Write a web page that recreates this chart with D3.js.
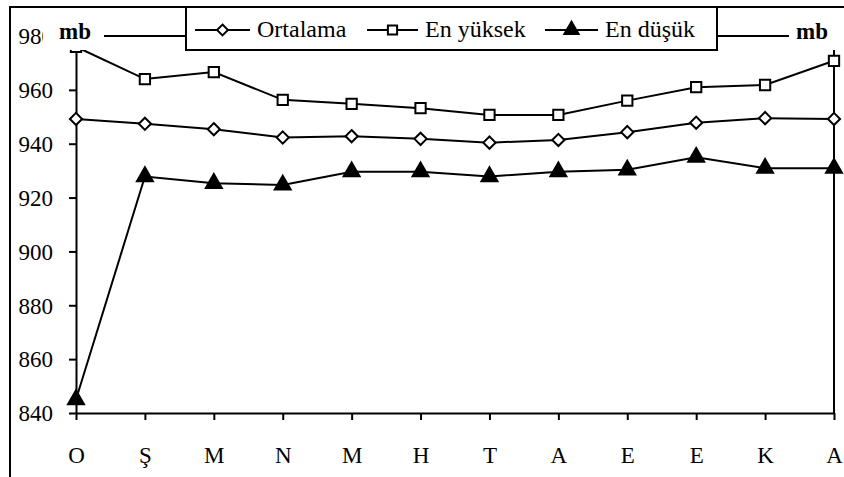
<!DOCTYPE html>
<head>
  <meta charset="utf-8">
  <title>Basinc grafigi</title>
  <style>
    body { margin: 0; background: #ffffff; }
    .domain { stroke: #000; stroke-width: 2px; }
    .tick line { stroke: #000; stroke-width: 2px; }
  </style>
  <script src="https://cdn.jsdelivr.net/npm/d3@7"></script>
</head>
<body>
<script>
  // months (Ekim .. Eylul)
  var months = ["O", "Ş", "M", "N", "M", "H", "T", "A", "E", "E", "K", "A"];
  var seriesNames = ["Ortalama", "En yüksek", "En düşük"];
  var ortalama = [949.2, 947.4, 945.4, 942.3, 942.8, 941.8, 940.4, 941.4, 944.3, 947.8, 949.5, 949.2];
  var enYuksek = [976, 964, 966.6, 956.3, 954.8, 953.2, 950.7, 950.7, 956, 961, 961.8, 970.8];
  var enDusuk = [845, 927.8, 925.3, 924.7, 929.6, 929.6, 927.8, 929.6, 930.3, 935, 930.9, 930.9];
  var yTicks = [840, 860, 880, 900, 920, 940, 960, 980];

  var W = 844, H = 477;
  var margin = { top: 36, right: 10, bottom: 64, left: 76 };
  var serif = "'Liberation Serif', 'Times New Roman', serif";

  var svg = d3.select("body").append("svg")
    .attr("width", W)
    .attr("height", H);

  // outer frame (left + top only)
  svg.append("path")
    .attr("d", "M10," + H + "V7H" + W)
    .attr("fill", "none")
    .attr("stroke", "#000")
    .attr("stroke-width", 2);

  var x = d3.scalePoint()
    .domain(d3.range(months.length))
    .range([margin.left, W - margin.right]);

  var y = d3.scaleLinear()
    .domain([840, 980])
    .range([H - margin.bottom, margin.top]);

  // plot area top + right lines
  svg.append("line")
    .attr("x1", margin.left).attr("x2", W - margin.right)
    .attr("y1", y(980)).attr("y2", y(980))
    .attr("stroke", "#000").attr("stroke-width", 2);
  svg.append("line")
    .attr("x1", W - margin.right).attr("x2", W - margin.right)
    .attr("y1", y(980)).attr("y2", y(840))
    .attr("stroke", "#000").attr("stroke-width", 2);

  // y axis
  var yAxis = svg.append("g")
    .attr("transform", "translate(" + margin.left + ",0)")
    .call(d3.axisLeft(y).tickValues(yTicks).tickSize(7).tickSizeOuter(0).tickPadding(16));
  yAxis.selectAll("text")
    .style("font-family", serif)
    .style("font-size", "23px")
    .attr("dy", "0.34em");

  // x axis
  var xAxis = svg.append("g")
    .attr("transform", "translate(0," + y(840) + ")")
    .call(d3.axisBottom(x).tickFormat(function (i) { return months[i]; })
      .tickSize(7).tickSizeOuter(0).tickPadding(27));
  xAxis.selectAll("text")
    .style("font-family", serif)
    .style("font-size", "23px");

  var line = d3.line()
    .x(function (d, i) { return x(i); })
    .y(function (d) { return y(d); });

  var data = [ortalama, enYuksek, enDusuk];
  var shapes = [d3.symbolDiamond2, d3.symbolSquare2, d3.symbolTriangle];
  var sizes = [95, 135, 110];
  var fills = ["#fff", "#fff", "#000"];

  data.forEach(function (vals, k) {
    svg.append("path")
      .datum(vals)
      .attr("d", line)
      .attr("fill", "none")
      .attr("stroke", "#000")
      .attr("stroke-width", 2);

    svg.selectAll(".m" + k)
      .data(vals)
      .enter().append("path")
      .attr("class", "m" + k)
      .attr("transform", function (d, i) { return "translate(" + x(i) + "," + y(d) + ")"; })
      .attr("d", d3.symbol().type(shapes[k]).size(sizes[k]))
      .attr("fill", fills[k])
      .attr("stroke", "#000")
      .attr("stroke-width", 2);
  });

  // "mb" unit labels with white background (covers the end of "980")
  [[43, 104, 59], [789, W, 796]].forEach(function (p) {
    svg.append("rect")
      .attr("x", p[0]).attr("y", 18)
      .attr("width", p[1] - p[0]).attr("height", 32)
      .attr("fill", "#fff");
    svg.append("text")
      .attr("x", p[2]).attr("y", 39)
      .style("font-family", serif)
      .style("font-size", "23px")
      .style("font-weight", "bold")
      .text("mb");
  });

  // legend
  var legend = svg.append("g");
  legend.append("rect")
    .attr("x", 186).attr("y", 7)
    .attr("width", 531).attr("height", 43)
    .attr("fill", "#fff")
    .attr("stroke", "#000")
    .attr("stroke-width", 2);

  var legX = [195, 367, 545];
  var legLen = [55, 51, 53];
  seriesNames.forEach(function (name, k) {
    var g = legend.append("g").attr("transform", "translate(" + legX[k] + ",30)");
    g.append("line")
      .attr("x1", 0).attr("x2", legLen[k])
      .attr("stroke", "#000").attr("stroke-width", 2);
    g.append("path")
      .attr("transform", "translate(" + (legLen[k] / 2) + ",0)")
      .attr("d", d3.symbol().type(shapes[k]).size(sizes[k] * 0.8))
      .attr("fill", fills[k])
      .attr("stroke", "#000")
      .attr("stroke-width", 2);
    g.append("text")
      .attr("x", legLen[k] + 7).attr("y", 7)
      .style("font-family", serif)
      .style("font-size", "24px")
      .text(name);
  });
</script>
</body>
